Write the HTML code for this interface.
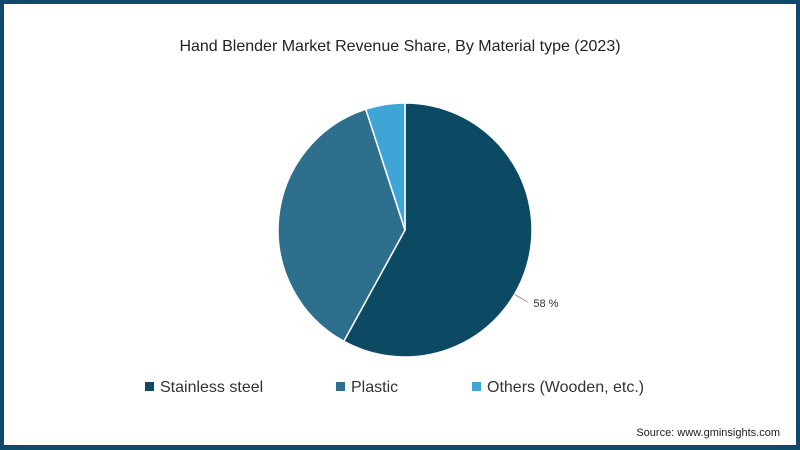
<!DOCTYPE html>
<html><head><meta charset="utf-8"><style>
html,body{margin:0;padding:0;background:#fff;}
#frame{position:relative;width:800px;height:450px;box-sizing:border-box;border:4px solid #0d4a6b;border-bottom-width:5px;background:#fff;font-family:"Liberation Sans",sans-serif;overflow:hidden;}
svg{position:absolute;left:-4px;top:-4px;}
</style></head><body>
<div id="frame">
<svg id="chart" width="800" height="450">
<text x="400" y="51" text-anchor="middle" font-size="16" fill="#222">Hand Blender Market Revenue Share, By Material type (2023)</text>
<g id="slices"></g>
<g id="legend"></g>
<text x="780" y="436" text-anchor="end" font-size="11" fill="#222">Source: www.gminsights.com</text>
</svg>
</div>
<script>
const categories = ["Stainless steel", "Plastic", "Others (Wooden, etc.)"];
const values = [58, 37, 5];
const labels = ["58 %", "", ""];
const colors = ["#0b4a62", "#2e6f8e", "#3fa5d6"];
const NS = "http://www.w3.org/2000/svg";
const cx = 405, cy = 230, r = 127;
const total = values.reduce((a,b)=>a+b,0);
const g = document.getElementById('slices');
function pt(a, rad){ return [cx + rad*Math.sin(a), cy - rad*Math.cos(a)]; }
let acc = 0;
values.forEach((v,i)=>{
  const a0 = acc/total*2*Math.PI; acc += v; const a1 = acc/total*2*Math.PI;
  const p0 = pt(a0,r), p1 = pt(a1,r);
  const large = (a1-a0) > Math.PI ? 1 : 0;
  const path = document.createElementNS(NS,'path');
  path.setAttribute('d', `M${cx},${cy} L${p0[0]},${p0[1]} A${r},${r} 0 ${large} 1 ${p1[0]},${p1[1]} Z`);
  path.setAttribute('fill', colors[i]);
  path.setAttribute('stroke', '#fff');
  path.setAttribute('stroke-width', '1.5');
  
  
  g.appendChild(path);
  if (labels[i]) {
    const am = (a0 + a1)/2 + 0.28;
    const pa = pt(am, r), pb = pt(am, r + 15);
    const ln = document.createElementNS(NS,'line');
    ln.setAttribute('x1', pa[0]); ln.setAttribute('y1', pa[1]);
    ln.setAttribute('x2', pb[0]); ln.setAttribute('y2', pb[1]);
    ln.setAttribute('stroke', '#999');
    
    
    g.appendChild(ln);
    const t = document.createElementNS(NS,'text');
    t.setAttribute('x', pb[0] + 6); t.setAttribute('y', pb[1] + 5);
    t.setAttribute('font-size', '11'); t.setAttribute('fill', '#333');
    t.textContent = labels[i];
    
    
    g.appendChild(t);
  }
});
const lg = document.getElementById('legend');
const lx = [145, 336, 472];
categories.forEach((c,i)=>{
  const rc = document.createElementNS(NS,'rect');
  rc.setAttribute('x', lx[i]); rc.setAttribute('y', 382);
  rc.setAttribute('width', 9); rc.setAttribute('height', 9);
  rc.setAttribute('fill', colors[i]);
  
  
  lg.appendChild(rc);
  const t = document.createElementNS(NS,'text');
  t.setAttribute('x', lx[i] + 15); t.setAttribute('y', 392);
  t.setAttribute('font-size', '16'); t.setAttribute('fill', '#333');
  t.textContent = c;
  
  
  lg.appendChild(t);
});
</script>
</body></html>
